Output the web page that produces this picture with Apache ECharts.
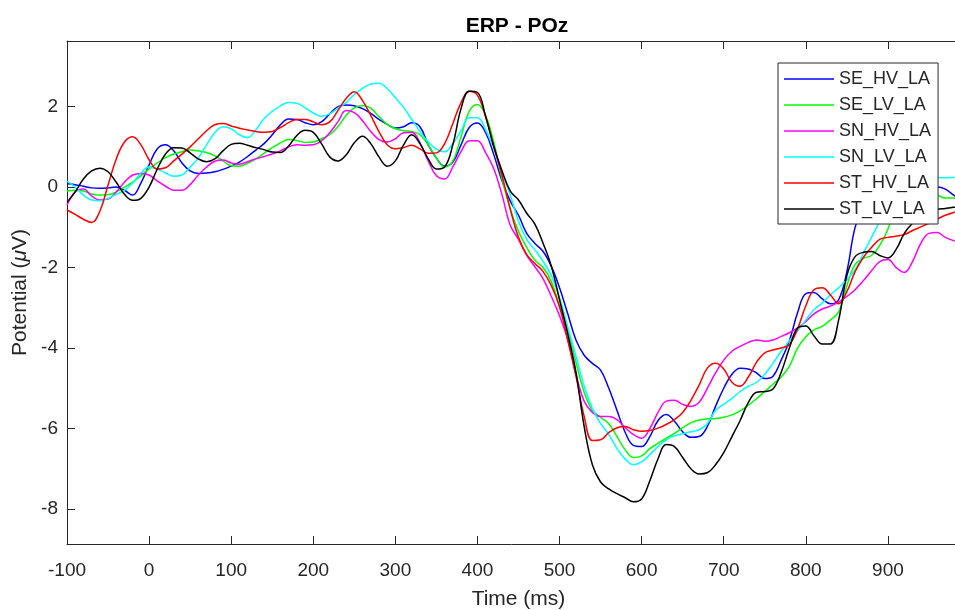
<!DOCTYPE html>
<html>
<head>
<meta charset="utf-8">
<script src="https://cdn.jsdelivr.net/npm/echarts@6/dist/echarts.min.js"></script>
<style>
html,body{margin:0;padding:0;background:#fff;}
#chart{width:955px;height:610px;}
</style>
</head>
<body>
<div id="chart"></div>
<script>
// time axis (ms), one sample every 10 ms from -100 to 990
var times = [];
for (var t = -100; t <= 990; t += 10) times.push(t);

var seriesNames = ['SE_HV_LA','SE_LV_LA','SN_HV_LA','SN_LV_LA','ST_HV_LA','ST_LV_LA'];

var SE_HV_LA = [0.08,0.06,0.02,-0.02,-0.03,-0.02,0.0,-0.08,-0.2,0.1,
0.55,0.95,1.05,0.9,0.6,0.4,0.34,0.35,0.38,0.44,
0.52,0.62,0.76,0.92,1.08,1.3,1.55,1.69,1.68,1.6,
1.55,1.62,1.82,2.0,2.04,2.02,1.95,1.83,1.68,1.56,
1.47,1.5,1.6,1.5,1.05,0.72,0.52,0.62,1.05,1.48,
1.59,1.35,0.8,0.15,-0.35,-0.7,-1.15,-1.4,-1.6,-1.97,
-2.5,-3.15,-3.8,-4.18,-4.38,-4.55,-5.0,-5.55,-6.1,-6.42,
-6.45,-6.2,-5.8,-5.65,-5.82,-6.08,-6.22,-6.2,-5.95,-5.45,
-5.0,-4.65,-4.5,-4.52,-4.62,-4.76,-4.7,-4.3,-3.82,-3.12,
-2.65,-2.62,-2.78,-2.9,-2.8,-2.1,-1.0,-0.5,-0.3,-0.2,
-0.2,-0.25,-0.3,-0.25,-0.15,-0.05,0.0,-0.05,-0.2,-0.3];

var SE_LV_LA = [-0.1,-0.08,-0.1,-0.17,-0.2,-0.19,-0.12,0.0,0.12,0.28,
0.45,0.6,0.73,0.82,0.88,0.92,0.9,0.86,0.78,0.65,
0.53,0.52,0.59,0.7,0.84,0.98,1.1,1.18,1.16,1.11,
1.12,1.2,1.3,1.5,1.78,1.97,2.03,1.96,1.75,1.56,
1.45,1.4,1.38,1.3,1.05,0.72,0.5,0.65,1.25,1.88,
2.05,1.78,1.1,0.2,-0.55,-1.1,-1.5,-1.82,-2.0,-2.35,
-2.95,-3.55,-4.35,-5.1,-5.55,-5.72,-5.88,-6.2,-6.53,-6.72,
-6.68,-6.5,-6.37,-6.24,-6.12,-5.98,-5.86,-5.79,-5.76,-5.75,
-5.72,-5.66,-5.56,-5.42,-5.26,-5.08,-4.9,-4.72,-4.45,-4.0,
-3.72,-3.55,-3.46,-3.3,-3.1,-2.45,-1.92,-1.77,-1.7,-1.45,
-1.05,-0.4,-0.1,0.0,-0.05,-0.15,-0.2,-0.27,-0.27,-0.25];

var SN_HV_LA = [-0.45,-0.12,-0.05,-0.22,-0.32,-0.3,-0.12,0.12,0.3,0.34,
0.3,0.15,0.02,-0.08,-0.08,0.06,0.3,0.5,0.64,0.67,
0.6,0.57,0.63,0.7,0.76,0.82,0.9,1.0,1.05,1.04,
1.05,1.15,1.35,1.62,1.9,1.85,1.65,1.38,1.18,1.12,
1.2,1.35,1.36,1.1,0.65,0.28,0.2,0.5,0.88,1.15,
1.15,0.85,0.45,-0.2,-0.95,-1.3,-1.7,-1.98,-2.28,-2.72,
-3.2,-3.8,-4.65,-5.32,-5.6,-5.7,-5.7,-5.78,-5.98,-6.15,
-6.24,-6.0,-5.6,-5.32,-5.3,-5.4,-5.45,-5.35,-5.0,-4.62,
-4.3,-4.08,-3.96,-3.86,-3.8,-3.83,-3.8,-3.71,-3.62,-3.5,
-3.34,-3.15,-3.03,-2.96,-2.86,-2.72,-2.55,-2.33,-2.08,-1.85,
-1.8,-2.0,-2.12,-1.85,-1.4,-1.15,-1.13,-1.25,-1.33,-1.38];

var SN_LV_LA = [0.15,0.0,-0.2,-0.32,-0.34,-0.28,-0.18,-0.08,0.1,0.35,
0.5,0.45,0.35,0.27,0.3,0.5,0.72,1.05,1.35,1.5,
1.45,1.3,1.23,1.42,1.7,1.88,2.02,2.1,2.08,1.97,
1.84,1.76,1.82,1.96,2.1,2.3,2.45,2.56,2.58,2.45,
2.22,1.98,1.68,1.38,1.12,0.94,0.88,1.08,1.4,1.72,
1.72,1.42,0.95,0.35,-0.2,-0.85,-1.3,-1.56,-1.85,-2.2,
-2.75,-3.47,-4.2,-4.95,-5.5,-5.88,-6.15,-6.5,-6.76,-6.9,
-6.83,-6.65,-6.45,-6.28,-6.18,-6.13,-6.08,-6.03,-5.88,-5.55,
-5.4,-5.25,-5.08,-4.95,-4.85,-4.65,-4.38,-4.08,-3.82,-3.57,
-3.3,-3.05,-2.88,-2.68,-2.5,-2.3,-2.06,-1.65,-1.25,-0.85,
-0.45,-0.12,0.1,0.2,0.25,0.25,0.24,0.23,0.24,0.26];

var ST_HV_LA = [-0.57,-0.68,-0.8,-0.88,-0.6,0.05,0.7,1.12,1.25,1.05,
0.68,0.45,0.48,0.65,0.82,1.0,1.2,1.4,1.55,1.58,
1.52,1.46,1.42,1.38,1.36,1.38,1.48,1.6,1.68,1.68,
1.62,1.55,1.62,1.9,2.2,2.37,2.15,1.78,1.38,1.05,
0.95,0.98,1.04,0.95,0.84,0.85,1.08,1.58,2.1,2.38,
2.28,1.75,1.0,0.28,-0.55,-1.25,-1.68,-1.9,-2.1,-2.45,
-2.98,-3.8,-4.7,-5.7,-6.3,-6.28,-6.1,-5.98,-5.95,-6.03,
-6.07,-6.05,-5.99,-5.9,-5.78,-5.6,-5.3,-4.92,-4.5,-4.38,
-4.52,-4.85,-4.95,-4.72,-4.35,-4.12,-4.05,-4.0,-3.92,-3.52,
-2.95,-2.55,-2.5,-2.68,-2.9,-2.6,-2.1,-1.75,-1.5,-1.3,
-1.25,-1.22,-1.18,-1.08,-0.99,-0.9,-0.8,-0.7,-0.63,-0.58];

var ST_LV_LA = [-0.38,-0.12,0.2,0.4,0.47,0.38,0.12,-0.18,-0.33,-0.28,
0.0,0.45,0.82,0.98,0.97,0.85,0.7,0.63,0.7,0.9,
1.06,1.09,1.04,0.98,0.93,0.87,0.86,1.02,1.28,1.41,
1.36,1.08,0.75,0.65,0.8,1.1,1.26,1.08,0.75,0.52,
0.65,1.05,1.3,1.08,0.7,0.45,0.5,1.05,1.95,2.38,
2.35,1.75,1.0,0.4,-0.1,-0.32,-0.65,-0.92,-1.4,-1.97,
-2.8,-3.65,-4.6,-5.95,-6.9,-7.33,-7.5,-7.62,-7.72,-7.82,
-7.75,-7.3,-6.75,-6.4,-6.45,-6.72,-7.0,-7.13,-7.1,-6.9,
-6.6,-6.2,-5.8,-5.35,-5.1,-5.08,-5.02,-4.6,-4.0,-3.5,
-3.45,-3.7,-3.9,-3.9,-3.3,-2.2,-1.73,-1.62,-1.6,-1.7,
-1.76,-1.55,-1.15,-0.9,-0.75,-0.62,-0.55,-0.53,-0.5,-0.45];

var seriesValues = [SE_HV_LA, SE_LV_LA, SN_HV_LA, SN_LV_LA, ST_HV_LA, ST_LV_LA];
var seriesColors = ['#0000ff','#00ff00','#ff00ff','#00ffff','#ff0000','#000000'];

var xTickMin = -100, xTickMax = 1000, xTickStep = 100;
var yMin = -8.87, yMax = 3.63, yTickStep = 2;

var axisColor = '#262626';
var fontFam = '"Liberation Sans", Arial, Helvetica, sans-serif';

var chart = echarts.init(document.getElementById('chart'), null, {renderer: 'canvas'});

var series = seriesNames.map(function (name, i) {
  return {
    name: name,
    type: 'line',
    xAxisIndex: 0,
    yAxisIndex: 0,
    smooth: 0.4,
    symbol: 'none',
    showSymbol: false,
    lineStyle: {color: seriesColors[i], width: 1.5},
    itemStyle: {color: seriesColors[i]},
    emphasis: {disabled: true},
    data: times.map(function (t, k) { return [t, seriesValues[i][k]]; })
  };
});

var option = {
  animation: false,
  backgroundColor: '#ffffff',
  title: {
    text: 'ERP - POz',
    left: 512,
    textAlign: 'center',
    top: 11,
    textStyle: {fontFamily: fontFam, fontWeight: 'bold', fontSize: 21, color: '#000'}
  },
  legend: {
    orient: 'vertical',
    left: 778,
    top: 63,
    padding: [6, 7, 5, 6],
    icon: 'rect',
    itemWidth: 50,
    itemHeight: 1.5,
    itemGap: 6,
    backgroundColor: '#ffffff',
    borderColor: axisColor,
    borderWidth: 1,
    borderRadius: 0,
    data: seriesNames,
    textStyle: {fontFamily: fontFam, fontSize: 18, color: axisColor, lineHeight: 20}
  },
  grid: {left: 67, top: 41, right: -15, height: 503, containLabel: false, outerBoundsMode: 'none'},
  xAxis: [{
    type: 'value',
    min: xTickMin,
    max: xTickMax,
    interval: xTickStep,
    position: 'bottom',
    name: 'Time (ms)',
    nameLocation: 'middle',
    nameGap: 45,
    nameTextStyle: {fontFamily: fontFam, fontSize: 21, color: axisColor},
    axisLine: {show: true, onZero: false, lineStyle: {color: axisColor, width: 1}},
    axisTick: {show: true, inside: true, length: 8, lineStyle: {color: axisColor}},
    axisLabel: {
      fontFamily: fontFam, fontSize: 19, color: axisColor, margin: 17,
      formatter: function (v) { return v >= xTickMax ? '' : String(v); }
    },
    splitLine: {show: false}
  }, {
    type: 'value',
    min: xTickMin,
    max: xTickMax,
    interval: xTickStep,
    position: 'top',
    axisLine: {show: true, onZero: false, lineStyle: {color: axisColor, width: 1}},
    axisTick: {show: true, inside: true, length: 8, lineStyle: {color: axisColor}},
    axisLabel: {show: false},
    splitLine: {show: false}
  }],
  yAxis: [{
    type: 'value',
    min: yMin,
    max: yMax,
    minInterval: yTickStep,
    maxInterval: yTickStep,
    position: 'left',
    name: 'Potential ({i|μ}V)',
    nameLocation: 'middle',
    nameRotate: 90,
    nameGap: 28,
    nameTextStyle: {
      fontFamily: fontFam, fontSize: 21, color: axisColor,
      rich: {i: {fontFamily: fontFam, fontSize: 21, fontStyle: 'italic', color: axisColor}}
    },
    axisLine: {show: true, onZero: false, lineStyle: {color: axisColor, width: 1}},
    axisTick: {show: true, inside: true, length: 8, lineStyle: {color: axisColor}},
    axisLabel: {
      fontFamily: fontFam, fontSize: 19, color: axisColor, margin: 9,
      formatter: function (v) { return Math.abs(v - Math.round(v)) < 1e-6 ? String(Math.round(v)) : ''; }
    },
    splitLine: {show: false}
  }],
  series: series
};

chart.setOption(option);
</script>
</body>
</html>
